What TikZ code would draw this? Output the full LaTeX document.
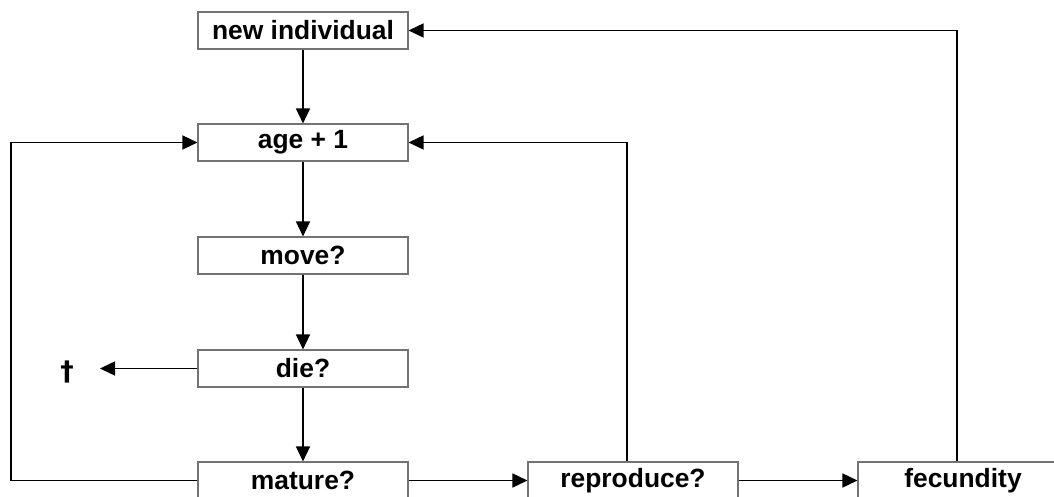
\documentclass[tikz,border=0pt]{standalone}
\usepackage{fontspec}
\setmainfont{Liberation Sans}
\newfontfamily\dagfont{DejaVu Sans}
\usetikzlibrary{arrows.meta}
\begin{document}
\begin{tikzpicture}[x=1bp,y=-1bp,
  box/.style={draw=black!55,line width=1.1bp,minimum width=210bp,minimum height=37bp,inner sep=0pt,font=\fontsize{26.5}{28}\selectfont\bfseries,fill=white},
  conn/.style={line width=1.5bp,-{Triangle[length=15bp,width=14bp]}}]
\useasboundingbox (0,0) rectangle (1054,497);
\clip (0,0) rectangle (1054,497);
\fill[white] (0,0) rectangle (1054,497);
\node[box] (new) at (303,30.5) {new individual};
\node[box] (age) at (303,142.5) {age + 1};
\node[box] (move) at (303,255.5) {move?};
\node[box] (die) at (303,368.5) {die?};
\node[box] (mat) at (303,480.5) {mature?};
\node[box] (rep) at (633,480.5) {reproduce?};
\node[box] (fec) at (963,480.5) {fecundity};
\node[inner sep=0pt,font=\dagfont\bfseries\fontsize{27}{29}\selectfont,anchor=center] (dag) at (67,371.5) {†};
\coordinate (dagtip) at (100,368.5);
\coordinate (loopL) at (11,480.5);
\draw[conn] (new) -- (age);
\draw[conn] (age) -- (move);
\draw[conn] (move) -- (die);
\draw[conn] (die) -- (mat);
\draw[conn] (die.west) -- (dagtip);
\draw[conn] (mat) -- (rep);
\draw[conn] (rep) -- (fec);
\draw[conn] (mat.west) -- (loopL) |- (age.west);
\draw[conn] ([xshift=-6bp]rep.north) |- (age.east);
\draw[conn] ([xshift=-6bp]fec.north) |- (new.east);
\end{tikzpicture}
\end{document}
